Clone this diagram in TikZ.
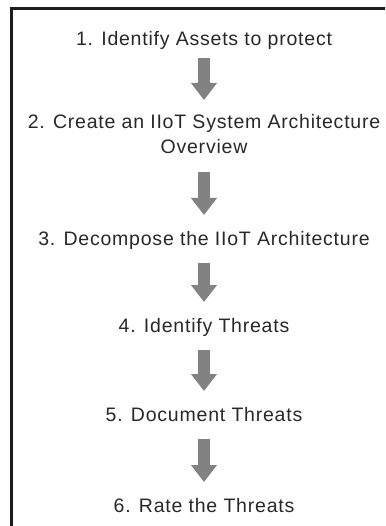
\documentclass[tikz,border=0pt]{standalone}
\usepackage{fontspec}
\setmainfont{Liberation Sans}[LetterSpace=4]
\usepackage{tikz}
\usetikzlibrary{
  arrows.meta
}
\definecolor{stepgray}{RGB}{40,40,40}
\definecolor{arrowgray}{RGB}{130,130,130}
\definecolor{framegray}{RGB}{28,28,28}

\begin{document}
\begin{tikzpicture}[
  x=1pt, y=-1pt,
  % Node styles
  stepbox/.style={
    inner sep=0pt,
    outer sep=0pt,
    text height=14pt,
    text depth=0pt,
    align=center,
    text=stepgray,
    font=\fontsize{19.5}{25}\selectfont,
  },
  flow/.style={
    line width=12pt,
    arrowgray,
    -{Triangle[width=25pt,length=17pt]},
    shorten <=18pt,
    shorten >=16pt,
  },
]

% ── Page and frame ──
\clip (0,0) rectangle (385,526);
\draw[framegray, line width=3pt] (11,8.5) rectangle (420,560);

% ── Steps ──
\node[stepbox] (assets) at (204, 39) {1. Identify Assets to protect};
\node[stepbox, text height=39pt] (overview) at (204, 134.5)
  {2. Create an IIoT System Architecture\\Overview};
\node[stepbox] (decompose) at (204, 238) {3. Decompose the IIoT Architecture};
\node[stepbox] (identify) at (204, 325) {4. Identify Threats};
\node[stepbox] (document) at (204, 414) {5. Document Threats};
\node[stepbox] (rate) at (204, 505) {6. Rate the Threats};

% ── Arrows ──
\draw[flow, shorten <=12pt, shorten >=15pt] (assets) -- (overview);
\draw[flow] (overview) -- (decompose);
\draw[flow] (decompose) -- (identify);
\draw[flow] (identify) -- (document);
\draw[flow] (document) -- (rate);

\end{tikzpicture}
\end{document}
